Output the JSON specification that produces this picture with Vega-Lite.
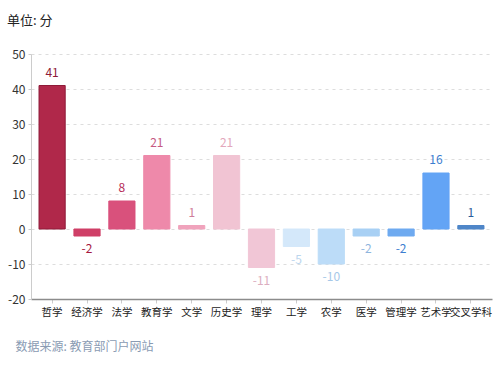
{
  "$schema": "https://vega.github.io/schema/vega-lite/v6.json",
  "width": 461,
  "height": 245,
  "autosize": "none",
  "padding": {"left": 31, "top": 54, "right": 8, "bottom": 68},
  "background": "#ffffff",
  "config": {
    "font": "Noto Sans CJK SC",
    "view": {"stroke": null}
  },
  "title": {
    "text": "单位: 分",
    "anchor": "start",
    "frame": "group",
    "dx": -24,
    "offset": 20,
    "fontSize": 13,
    "fontWeight": "normal",
    "color": "#222222",
    "font": "Noto Sans CJK SC"
  },
  "data": {
    "values": [
      {"subject": "哲学", "v": 41},
      {"subject": "经济学", "v": -2},
      {"subject": "法学", "v": 8},
      {"subject": "教育学", "v": 21},
      {"subject": "文学", "v": 1},
      {"subject": "历史学", "v": 21},
      {"subject": "理学", "v": -11},
      {"subject": "工学", "v": -5},
      {"subject": "农学", "v": -10},
      {"subject": "医学", "v": -2},
      {"subject": "管理学", "v": -2},
      {"subject": "艺术学", "v": 16},
      {"subject": "交叉学科", "v": 1}
    ]
  },
  "encoding": {
    "x": {
      "field": "subject",
      "type": "nominal",
      "sort": null,
      "scale": {"paddingInner": 0.25, "paddingOuter": 0.23},
      "axis": {
        "title": "数据来源: 教育部门户网站",
        "titleX": -16,
        "titleY": 47,
        "titleAlign": "left",
        "titleAnchor": null,
        "titleBaseline": "middle",
        "titleFontSize": 12,
        "titleFontWeight": "normal",
        "titleColor": "#8a9bb3",
        "labelAngle": 0,
        "labelFontSize": 10.5,
        "labelColor": "#222222",
        "labelPadding": 4,
        "labelOverlap": false,
        "labelBound": false,
        "domainColor": "#8c8c8c",
        "domainWidth": 1.5,
        "tickColor": "#cccccc",
        "tickSize": 4,
        "labelFont": "Noto Sans CJK SC",
        "encode": {
          "labels": {
            "update": {
              "dx": {"signal": "datum.value === '艺术学' ? -3 : (datum.value === '交叉学科' ? 1 : 0)"}
            }
          }
        }
      }
    },
    "y": {
      "field": "v",
      "type": "quantitative",
      "scale": {"domain": [-20, 50], "nice": false},
      "axis": {
        "title": null,
        "values": [-20, -10, 0, 10, 20, 30, 40, 50],
        "labelExpr": "'' + datum.value",
        "labelFontSize": 12,
        "labelColor": "#333333",
        "labelPadding": 3,
        "domainColor": "#cccccc",
        "tickColor": "#cccccc",
        "tickSize": 3,
        "gridColor": "#dddddd",
        "gridDash": [3, 4],
        "labelFont": "Noto Sans CJK SC"
      }
    }
  },
  "layer": [
    {
      "mark": {"type": "bar", "strokeWidth": 1},
      "encoding": {
        "color": {
          "field": "subject",
          "type": "nominal",
          "legend": null,
          "scale": {
            "domain": ["哲学","经济学","法学","教育学","文学","历史学","理学","工学","农学","医学","管理学","艺术学","交叉学科"],
            "range": ["#b0284a","#cf3f67","#d9517c","#ee89aa","#f0a3bc","#f1c4d3","#f1c6d6","#d4e8fa","#bcdcf8","#a8d0f4","#6eaaf0","#63a4f5","#4f86c8"]
          }
        },
        "stroke": {
          "field": "subject",
          "type": "nominal",
          "legend": null,
          "scale": {
            "domain": ["哲学","经济学","法学","教育学","文学","历史学","理学","工学","农学","医学","管理学","艺术学","交叉学科"],
            "range": ["#8f1a38","#cf3f67","#d9517c","#ee89aa","#f0a3bc","#f1c4d3","#f1c6d6","#d4e8fa","#bcdcf8","#a8d0f4","#6eaaf0","#63a4f5","#4f86c8"]
          }
        }
      }
    },
    {
      "transform": [{"filter": "datum.v >= 0"}],
      "mark": {"type": "text", "baseline": "middle", "dy": -13, "fontSize": 12},
      "encoding": {
        "text": {"field": "v", "type": "nominal"},
        "color": {
          "field": "subject",
          "type": "nominal",
          "legend": null,
          "scale": {
            "domain": ["哲学","经济学","法学","教育学","文学","历史学","理学","工学","农学","医学","管理学","艺术学","交叉学科"],
            "range": ["#8f1a38","#a5183f","#b52a55","#c65a82","#cf7d9a","#e3a8bc","#dcaec0","#bcd6ee","#a6c8e8","#8fb6de","#3d7ed0","#3a7ed0","#2a5c9c"]
          }
        }
      }
    },
    {
      "transform": [{"filter": "datum.v < 0"}],
      "mark": {"type": "text", "baseline": "middle", "dy": 13, "fontSize": 12},
      "encoding": {
        "text": {"field": "v", "type": "nominal"},
        "color": {
          "field": "subject",
          "type": "nominal",
          "legend": null,
          "scale": {
            "domain": ["哲学","经济学","法学","教育学","文学","历史学","理学","工学","农学","医学","管理学","艺术学","交叉学科"],
            "range": ["#8f1a38","#a5183f","#b52a55","#c65a82","#cf7d9a","#e3a8bc","#dcaec0","#bcd6ee","#a6c8e8","#8fb6de","#3d7ed0","#3a7ed0","#2a5c9c"]
          }
        }
      }
    }
  ],
  "resolve": {"scale": {"color": "independent"}}
}
